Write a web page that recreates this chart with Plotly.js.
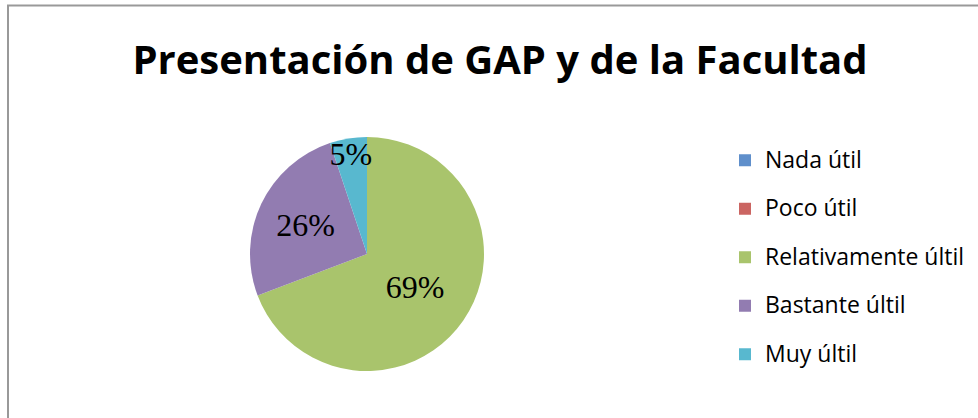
<!DOCTYPE html>
<html>
<head>
<meta charset="utf-8">
<script src="https://cdn.plot.ly/plotly-3.0.1.min.js"></script>
<style>html,body{margin:0;padding:0;background:#fff}#chart{width:978px;height:418px}</style>
</head>
<body>
<div id="chart"></div>
<script>
const categories = ["Nada útil", "Poco útil", "Relativamente últil", "Bastante últil", "Muy últil"];
const counts = [0, 0, 27, 10, 2];
const colors = ["#5F8FCB", "#CB6562", "#A9C46C", "#927CB1", "#58B8CF"];
const chartTitle = "Presentación de GAP y de la Facultad";

const W = 978, H = 418;
const legendLabels = categories.map(c => '<span style="font-size:23px;baseline-shift:6px">' + c + '</span>');
const sliceText = counts.map(v => v > 0 ? "%{percent:.0%}" : "");

const trace = {
  type: "pie",
  labels: legendLabels,
  values: counts,
  sort: false,
  direction: "clockwise",
  rotation: 0,
  marker: {colors: colors, line: {width: 0}},
  textinfo: "percent",
  texttemplate: sliceText,
  textposition: "inside",
  insidetextorientation: "horizontal",
  insidetextfont: {family: "Liberation Serif, Times New Roman, serif", size: 32, color: "#000"},
  domain: {x: [250 / W, 484 / W], y: [(H - 371) / H, (H - 137) / H]},
  showlegend: true,
  hoverinfo: "label+percent"
};

const layout = {
  width: W, height: H,
  margin: {l: 0, r: 0, t: 0, b: 0},
  paper_bgcolor: "#fff",
  uniformtext: {minsize: 32, mode: "show"},
  title: {
    text: "<b>" + chartTitle + "</b>",
    font: {family: "Open Sans, Arial, sans-serif", size: 40, color: "#000"},
    x: 500 / W, xanchor: "center", xref: "paper",
    y: (H - 60) / H, yanchor: "middle", yref: "paper"
  },
  legend: {
    x: 725 / W, xanchor: "left",
    y: (H - 131) / H, yanchor: "top",
    font: {family: "Open Sans, Arial, sans-serif", size: 35, color: "#000"},
    bgcolor: "rgba(0,0,0,0)",
    traceorder: "normal"
  },
  shapes: [{
    type: "rect", xref: "paper", yref: "paper",
    x0: 8 / W, x1: 1.05, y0: -0.1, y1: (H - 5.5) / H,
    line: {color: "#999", width: 2}, fillcolor: "rgba(0,0,0,0)"
  }]
};

Plotly.newPlot("chart", [trace], layout, {displayModeBar: false, staticPlot: true});
</script>
</body>
</html>
